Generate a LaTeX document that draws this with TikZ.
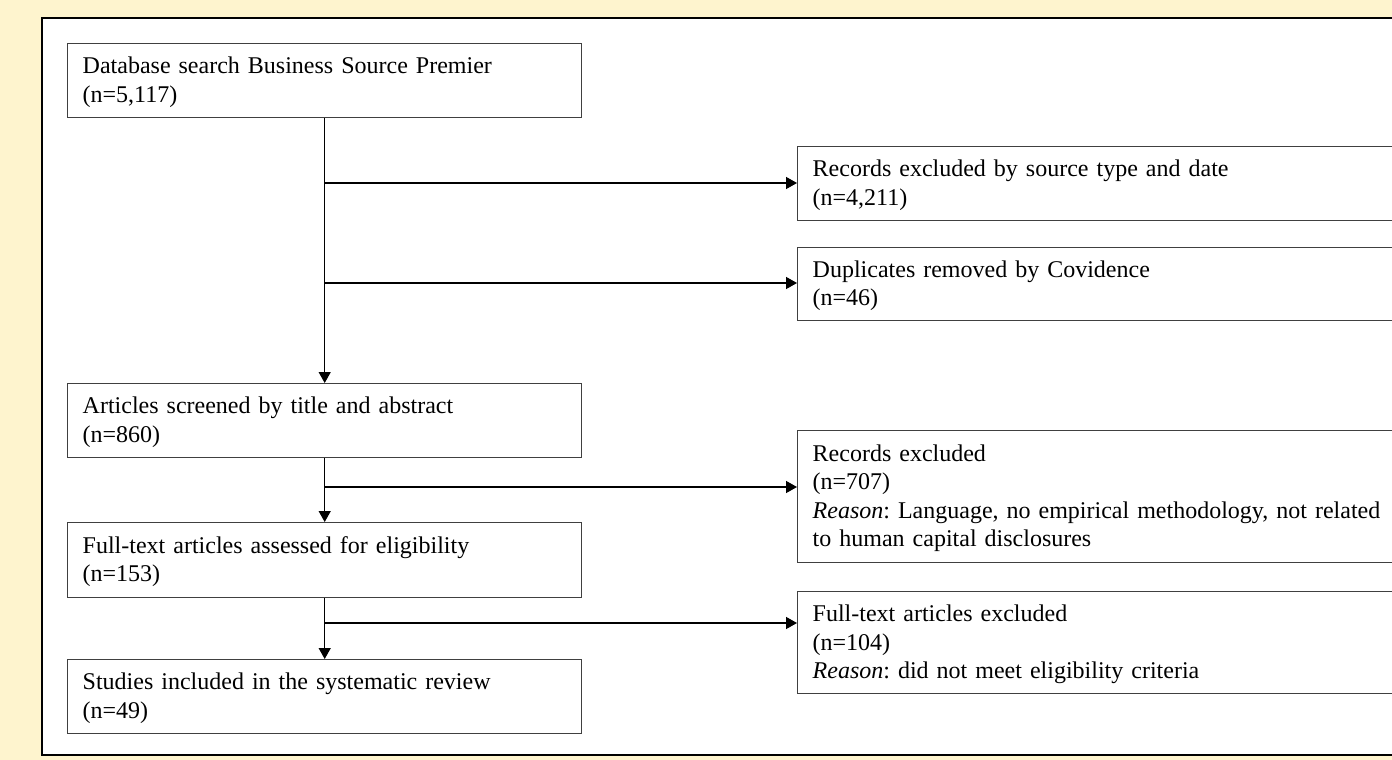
\documentclass[tikz,border=0pt]{standalone}
\usepackage{fontspec}
\setmainfont{Liberation Serif}
\usetikzlibrary{arrows.meta}
\definecolor{bgyellow}{RGB}{254,244,206}
\definecolor{boxline}{RGB}{64,64,64}
\frenchspacing
\begin{document}
\begin{tikzpicture}[x=1pt,y=-1pt,
 box/.style={draw=boxline, line width=1.4pt, fill=white, anchor=north west, minimum width=514pt, text width=484pt, inner xsep=15pt, inner ysep=0pt, align=left, font=\fontsize{24}{28.5}\selectfont\frenchspacing},
 rbox/.style={box, minimum width=640pt, text width=610pt},
 arr/.style={draw=black, line width=1.4pt, -{Triangle[length=11pt,width=12pt]}}]
\useasboundingbox (0,0) rectangle (1392,760);
\fill[bgyellow] (0,0) rectangle (1392,760);
\draw[line width=2pt, fill=white] (42,18) rectangle (1430,755);

\node[box, minimum height=74pt] (s1) at (67,43) {\rule{0pt}{20pt}Database search Business Source Premier\\(n=5,117)};
\node[rbox, minimum height=74pt] (r1) at (797,146) {\rule{0pt}{20pt}Records excluded by source type and date\\(n=4,211)};
\node[rbox, minimum height=73pt] (r2) at (797,247) {\rule{0pt}{20pt}Duplicates removed by Covidence\\(n=46)};
\node[box, minimum height=74pt] (s2) at (67,383) {\rule{0pt}{20pt}Articles screened by title and abstract\\(n=860)};
\node[rbox, minimum height=132pt] (r3) at (797,430) {\rule{0pt}{20pt}Records excluded\\(n=707)\\\textit{Reason}: Language, no empirical methodology, not related\\to human capital disclosures};
\node[box, minimum height=75pt] (s3) at (67,522) {\rule{0pt}{20pt}Full-text articles assessed for eligibility\\(n=153)};
\node[rbox, minimum height=102pt] (r4) at (797,591) {\rule{0pt}{20pt}Full-text articles excluded\\(n=104)\\\textit{Reason}: did not meet eligibility criteria};
\node[box, minimum height=74pt] (s4) at (67,659) {\rule{0pt}{20pt}Studies included in the systematic review\\(n=49)};

\coordinate (j1) at (324,183);
\coordinate (j2) at (324,283);
\coordinate (j3) at (324,487);
\coordinate (j4) at (324,623);

\draw[arr] (s1.south) -- (s2.north);
\draw[arr] (s2.south) -- (s3.north);
\draw[arr] (s3.south) -- (s4.north);
\draw[arr] (j1) -- (j1 -| r1.west);
\draw[arr] (j2) -- (j2 -| r2.west);
\draw[arr] (j3) -- (j3 -| r3.west);
\draw[arr] (j4) -- (j4 -| r4.west);
\end{tikzpicture}
\end{document}
